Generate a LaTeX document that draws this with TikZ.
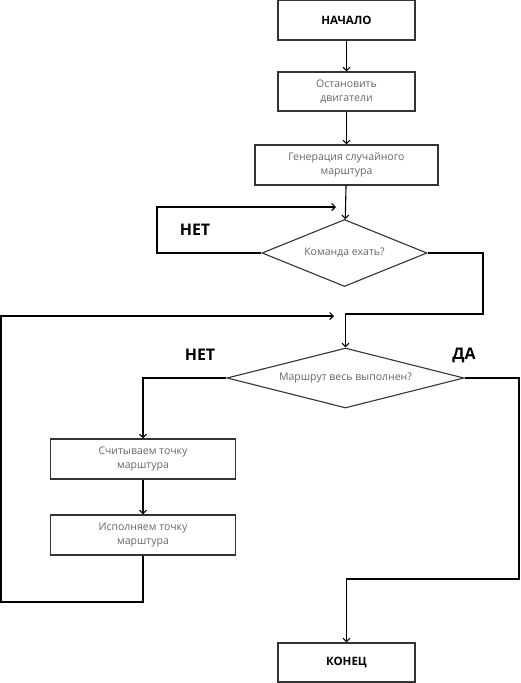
\documentclass[tikz,border=0pt]{standalone}
\usepackage{fontspec}
\setmainfont{Open Sans}
\usetikzlibrary{shapes.geometric,arrows.meta}
\begin{document}
\begin{tikzpicture}[x=1pt,y=-1pt,
  box/.style={draw=black!80,line width=1.1pt,rectangle,inner sep=2pt,align=center,font=\fontsize{10.5}{14}\selectfont,text=black!60},
  boldbox/.style={box,font=\fontsize{11.5}{14}\selectfont\bfseries,text=black},
  dec/.style={draw=black!80,line width=1.1pt,diamond,inner sep=0pt,font=\fontsize{10.5}{14}\selectfont,text=black!60},
  arr/.style={draw=black,line width=1.1pt,-{Straight Barb[length=3.5pt,width=7pt]}},
  lab/.style={font=\fontsize{16}{18}\selectfont\bfseries,text=black}]
\useasboundingbox (0,0) rectangle (520,683);
\node[boldbox,minimum width=137pt,minimum height=40pt] (start) at (346.5,20) {НАЧАЛО};
\node[box,minimum width=137pt,minimum height=39pt] (stop) at (346.5,91.5) {Остановить\\двигатели};
\node[box,minimum width=183pt,minimum height=40pt] (gen) at (346.5,165) {Генерация случайного\\марштура};
\node[dec,minimum width=165pt,minimum height=67pt,aspect=2.46] (d1) at (344.5,253) {Команда ехать?};
\node[dec,minimum width=237pt,minimum height=60pt,aspect=3.95] (d2) at (345.5,378) {Маршрут весь выполнен?};
\node[box,minimum width=185pt,minimum height=40pt] (read) at (143,459) {Считываем точку\\марштура};
\node[box,minimum width=185pt,minimum height=40pt] (exec) at (143,535) {Исполняем точку\\марштура};
\node[boldbox,minimum width=137pt,minimum height=39pt] (end) at (346.5,662.5) {КОНЕЦ};
\node[lab] (no1) at (195,230) {НЕТ};
\node[lab] (no2) at (200,355) {НЕТ};
\node[lab] (yes) at (464,355) {ДА};
\coordinate (nl) at (157,207);
\coordinate (nt) at (336,207);
\coordinate (r1) at (483,314);
\coordinate (lb) at (1,602);
\coordinate (lt) at (334,316);
\coordinate (rb) at (519,579);
\draw[arr] (start) -- (stop);
\draw[arr] (stop) -- (gen);
\draw[arr] (gen) -- (d1);
\draw[arr] (d1.west) -| (nl) -- (nt);
\draw[arr] (d1.east) -| (r1) -| (d2.north);
\draw[arr] (exec.south) |- (lb) |- (lt);
\draw[arr] (d2.west) -| (read.north);
\draw[arr] (read) -- (exec);
\draw[arr] (d2.east) -| (rb) -| (end.north);
\end{tikzpicture}
\end{document}
